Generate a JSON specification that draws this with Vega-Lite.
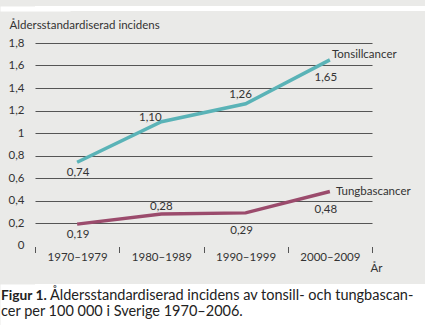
{
  "$schema": "https://vega.github.io/schema/vega-lite/v6.json",
  "background": "#eaeae8",
  "padding": 0,
  "spacing": 8,
  "columns": 1,
  "config": {
    "view": {"stroke": null},
    "font": "Lato",
    "locale": {"number": {"decimal": ",", "thousands": " ", "grouping": [3], "currency": ["", " kr"]}}
  },
  "datasets": {
    "inc": [
      {"period": "1970–1979", "series": "Tonsillcancer", "v": 0.74},
      {"period": "1980–1989", "series": "Tonsillcancer", "v": 1.10},
      {"period": "1990–1999", "series": "Tonsillcancer", "v": 1.26},
      {"period": "2000–2009", "series": "Tonsillcancer", "v": 1.65},
      {"period": "1970–1979", "series": "Tungbascancer", "v": 0.19},
      {"period": "1980–1989", "series": "Tungbascancer", "v": 0.28},
      {"period": "1990–1999", "series": "Tungbascancer", "v": 0.29},
      {"period": "2000–2009", "series": "Tungbascancer", "v": 0.48}
    ],
    "caption": [
      {"line": 1, "part": "bold", "text": "Figur 1."},
      {"line": 1, "part": "reg", "text": "Åldersstandardiserad incidens av tonsill- och tungbascan-"},
      {"line": 2, "part": "reg", "text": "cer per 100 000 i Sverige 1970–2006."}
    ]
  },
  "concat": [
    {
      "width": 390,
      "height": 5,
      "view": {"fill": "white", "stroke": null},
      "data": {"values": [{"a": 1}]},
      "mark": {"type": "text"},
      "encoding": {
        "y": {"datum": 0, "type": "quantitative",
          "axis": {"domain": true, "domainColor": "white", "domainWidth": 70, "domainCap": "butt", "labels": false, "ticks": false, "grid": false, "title": null}}
      }
    },
    {
      "width": 337,
      "height": 202.5,
      "data": {"name": "inc"},
      "encoding": {
        "x": {
          "field": "period", "type": "ordinal", "sort": null, "bandPosition": 0.5,
          "scale": {"type": "band", "paddingInner": 0, "paddingOuter": 0},
          "axis": {
            "title": "År", "tickBand": "extent", "domain": false, "ticks": true,
            "tickColor": "#555", "tickSize": 6, "tickWidth": 1, "offset": 1,
            "labelPadding": -1, "labelFontSize": 11.5, "labelColor": "#333", "labelAngle": 0,
            "titleX": 335, "titleY": 21.5, "titleAlign": "left", "titleBaseline": "middle",
            "titleFontWeight": "normal", "titleFontSize": 11.5, "titleColor": "#333", "grid": false,
            "minExtent": 29.5
          }
        },
        "y": {
          "field": "v", "type": "quantitative",
          "scale": {"domain": [0, 1.8], "nice": false, "zero": false},
          "axis": {
            "values": [0, 0.2, 0.4, 0.6, 0.8, 1, 1.2, 1.4, 1.6, 1.8],
            "format": ".1~f",
            "labelExpr": "replace(datum.label, '.', ',')",
            "domain": false, "ticks": false, "tickSize": 0, "labelPadding": 11,
            "labelFontSize": 11.5, "labelColor": "#333",
            "grid": true, "gridColor": "#555", "gridWidth": 1.2,
            "gridOpacity": {"condition": {"test": "datum.value === 0", "value": 0}, "value": 1},
            "minExtent": 35,
            "title": "Åldersstandardiserad incidens", "titleAngle": 0, "titleAlign": "left",
            "titleBaseline": "middle", "titleX": -26, "titleY": -18,
            "titleFontWeight": "normal", "titleFontSize": 11.5, "titleColor": "#333"
          }
        }
      },
      "layer": [
        {
          "mark": {"type": "line", "strokeWidth": 3.5, "strokeCap": "butt"},
          "encoding": {
            "color": {
              "field": "series", "type": "nominal",
              "scale": {"domain": ["Tonsillcancer", "Tungbascancer"], "range": ["#5ab3b7", "#9b4b6c"]},
              "legend": null
            }
          }
        },
        {
          "transform": [{"filter": {"field": "v", "oneOf": [0.74, 0.19]}}],
          "mark": {"type": "text", "fontSize": 11.5, "color": "#333", "dx": 1, "dy": 11},
          "encoding": {"text": {"field": "v", "type": "quantitative", "format": ".2f"}}
        },
        {
          "transform": [{"filter": {"field": "v", "equal": 1.10}}],
          "mark": {"type": "text", "fontSize": 11.5, "color": "#333", "dx": -11, "dy": -4},
          "encoding": {"text": {"field": "v", "type": "quantitative", "format": ".2f"}}
        },
        {
          "transform": [{"filter": {"field": "v", "equal": 1.26}}],
          "mark": {"type": "text", "fontSize": 11.5, "color": "#333", "dx": -5, "dy": -9},
          "encoding": {"text": {"field": "v", "type": "quantitative", "format": ".2f"}}
        },
        {
          "transform": [{"filter": {"field": "v", "equal": 0.28}}],
          "mark": {"type": "text", "fontSize": 11.5, "color": "#333", "dx": 0, "dy": -7},
          "encoding": {"text": {"field": "v", "type": "quantitative", "format": ".2f"}}
        },
        {
          "transform": [{"filter": {"field": "v", "oneOf": [1.65, 0.29, 0.48]}}],
          "mark": {"type": "text", "fontSize": 11.5, "color": "#333", "dx": -4, "dy": 18},
          "encoding": {"text": {"field": "v", "type": "quantitative", "format": ".2f"}}
        },
        {
          "transform": [{"filter": {"field": "series", "equal": "Tonsillcancer"}}, {"filter": {"field": "period", "equal": "2000–2009"}}],
          "mark": {"type": "text", "fontSize": 11.5, "color": "#333", "align": "left", "dx": 2, "dy": -5},
          "encoding": {"text": {"field": "series"}}
        },
        {
          "transform": [{"filter": {"field": "series", "equal": "Tungbascancer"}}, {"filter": {"field": "period", "equal": "2000–2009"}}],
          "mark": {"type": "text", "fontSize": 11.5, "color": "#333", "align": "left", "dx": 6, "dy": 0},
          "encoding": {"text": {"field": "series"}}
        }
      ]
    },
    {
      "width": 390,
      "height": 42,
      "view": {"fill": "white", "stroke": null},
      "data": {"name": "caption"},
      "encoding": {
        "x": {"datum": 0, "type": "quantitative", "scale": {"domain": [35, 425], "nice": false, "zero": false}, "axis": null},
        "y": {"field": "line", "type": "quantitative",
          "scale": {"domain": [0.25, 2.875], "reverse": true, "nice": false, "zero": false},
          "axis": {"domain": true, "domainColor": "white", "domainWidth": 70, "domainCap": "butt", "labels": false, "ticks": false, "grid": false, "title": null}},
        "text": {"field": "text"}
      },
      "layer": [
        {
          "transform": [{"filter": {"field": "part", "equal": "bold"}}],
          "mark": {"type": "text", "align": "left", "fontSize": 13.8, "fontWeight": "bold", "color": "#222", "dx": 1}
        },
        {
          "transform": [{"filter": {"field": "part", "equal": "reg"}}, {"filter": {"field": "line", "equal": 1}}],
          "mark": {"type": "text", "align": "left", "fontSize": 14.5, "color": "#222", "dx": 50}
        },
        {
          "transform": [{"filter": {"field": "line", "equal": 2}}],
          "mark": {"type": "text", "align": "left", "fontSize": 14.5, "color": "#222", "dx": 1}
        }
      ]
    }
  ]
}
